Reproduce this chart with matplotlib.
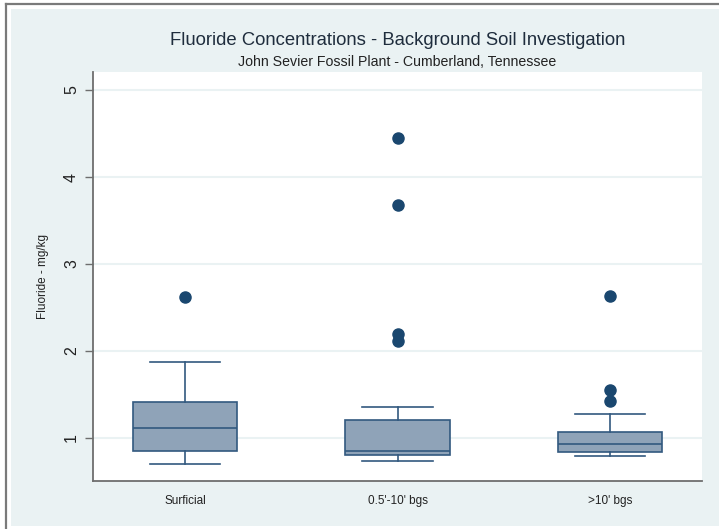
import matplotlib
matplotlib.use('Agg')
import matplotlib.pyplot as plt
from matplotlib.patches import Rectangle
from matplotlib.lines import Line2D

plt.rcParams['font.family'] = ['Liberation Sans', 'DejaVu Sans']

# values (mg/kg)
categories = ['Surficial', "0.5'-10' bgs", ">10' bgs"]
q1 = [0.85, 0.80, 0.84]
medians = [1.115, 0.85, 0.93]
q3 = [1.41, 1.21, 1.07]
whis_lo = [0.70, 0.74, 0.79]
whis_hi = [1.87, 1.36, 1.28]
outliers = [[2.62], [2.12, 2.19, 3.68, 4.45], [1.43, 1.55, 2.63]]
yticks = [1, 2, 3, 4, 5]

W, H = 719, 529
navy = '#1a476f'
edge = '#32597f'
fill = '#8fa3b8'
bg = '#eaf2f3'

fig = plt.figure(figsize=(W / 100, H / 100), dpi=100)
fig.patch.set_facecolor('white')

# light outer background and the grey frame
fig.patches.append(Rectangle((11 / W, 3 / H), 708 / W, 517 / H, transform=fig.transFigure,
                             facecolor=bg, edgecolor='none', zorder=-5))
fig.lines.append(Line2D([6 / W, 6 / W], [0, 1 - 4 / H], transform=fig.transFigure,
                        color='#7a7a7a', lw=1.6))
fig.lines.append(Line2D([6 / W, 1], [1 - 4 / H, 1 - 4 / H], transform=fig.transFigure,
                        color='#7a7a7a', lw=1.6))

ax = fig.add_axes([93 / W, (H - 481) / H, (702 - 93) / W, (481 - 72) / H])
ax.set_facecolor('white')

stats = []
for i in range(len(categories)):
    stats.append({'label': categories[i], 'q1': q1[i], 'med': medians[i], 'q3': q3[i],
                  'whislo': whis_lo[i], 'whishi': whis_hi[i], 'fliers': outliers[i]})

ax.bxp(stats, positions=[1, 2, 3], widths=0.49, capwidths=0.334, patch_artist=True,
       boxprops=dict(facecolor=fill, edgecolor=edge, lw=1.2),
       medianprops=dict(color=edge, lw=1.2),
       whiskerprops=dict(color=edge, lw=1.2),
       capprops=dict(color=edge, lw=1.2),
       flierprops=dict(marker='o', markerfacecolor=navy, markeredgecolor=navy, markersize=8),
       zorder=3)

ax.set_xlim(0.567, 3.433)
ax.set_ylim(0.506, 5.207)
ax.set_yticks(yticks)
ax.set_yticklabels([str(t) for t in yticks], rotation=90, va='center')
ax.yaxis.grid(True, color=bg, lw=1.5, zorder=0)
ax.set_axisbelow(True)

for s in ['top', 'right']:
    ax.spines[s].set_visible(False)
for s in ['left', 'bottom']:
    ax.spines[s].set_color('#6e6e6e')
    ax.spines[s].set_linewidth(1.3)

ax.tick_params(axis='y', length=6, width=1.0, color='#6e6e6e', labelsize=11.5, pad=4,
               labelcolor='#222222')
ax.tick_params(axis='x', length=0, labelsize=8.5, pad=10, labelcolor='#222222')

ax.set_ylabel('Fluoride - mg/kg', fontsize=8.5, color='#222222', labelpad=11)

fig.text(397.5 / W, 1 - 40 / H, 'Fluoride Concentrations - Background Soil Investigation',
         ha='center', va='center', fontsize=13.3, color='#1f2d3d')
fig.text(397.5 / W, 1 - 62 / H, 'John Sevier Fossil Plant - Cumberland, Tennessee',
         ha='center', va='center', fontsize=10.2, color='#222222')

fig.savefig('out.png', dpi=100)
